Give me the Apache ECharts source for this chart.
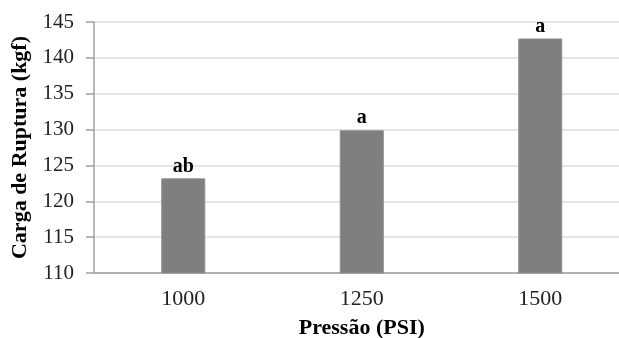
<!DOCTYPE html>
<html><head><meta charset="utf-8">
<script src="https://cdn.jsdelivr.net/npm/echarts@6/dist/echarts.min.js"></script>
<style>html,body{margin:0;padding:0;background:#fff}#c{width:619px;height:338px}</style>
</head><body><div id="c"></div>
<script>
const categories = ['1000', '1250', '1500'];
const values = [123.2, 129.9, 142.7];
const letters = ['ab', 'a', 'a'];
const yTicks = { min: 110, max: 145, interval: 5 };

const chart = echarts.init(document.getElementById('c'), null, { renderer: 'canvas' });
chart.setOption({
  animation: false,
  backgroundColor: '#fff',
  grid: { left: 94, top: 22, width: 535.5, height: 251, containLabel: false, outerBoundsMode: 'none' },
  xAxis: {
    type: 'category',
    data: categories,
    name: 'Pressão (PSI)',
    nameLocation: 'middle',
    nameGap: 44,
    nameTextStyle: { fontFamily: 'Liberation Serif', fontWeight: 'bold', fontSize: 22, color: '#000' },
    axisLine: { lineStyle: { color: '#a0a0a0', width: 1.5 } },
    axisTick: { show: false },
    axisLabel: { fontFamily: 'Liberation Serif', fontSize: 22, color: '#222', margin: 15 },
    splitLine: { show: false }
  },
  yAxis: {
    type: 'value',
    min: yTicks.min, max: yTicks.max, interval: yTicks.interval,
    name: 'Carga de Ruptura (kgf)',
    nameLocation: 'middle',
    nameGap: 60,
    nameTextStyle: { fontFamily: 'Liberation Serif', fontWeight: 'bold', fontSize: 22, color: '#000' },
    axisLine: { show: true, lineStyle: { color: '#a0a0a0', width: 1.5 } },
    axisTick: { show: true, length: 8, lineStyle: { color: '#a0a0a0', width: 1.5 } },
    axisLabel: { fontFamily: 'Liberation Serif', fontSize: 21, color: '#222', margin: 20 },
    splitLine: { lineStyle: { color: '#dcdcdc', width: 1.5 } }
  },
  series: [{
    type: 'bar',
    data: values.map((v, i) => ({ value: v, label: { formatter: letters[i] } })),
    barWidth: 44,
    itemStyle: { color: '#7f7f7f', borderColor: '#8c8c8c', borderWidth: 1 },
    label: { show: true, position: 'top', distance: 2, fontFamily: 'Liberation Serif', fontWeight: 'bold', fontSize: 20, color: '#000' }
  }]
});
</script></body></html>
